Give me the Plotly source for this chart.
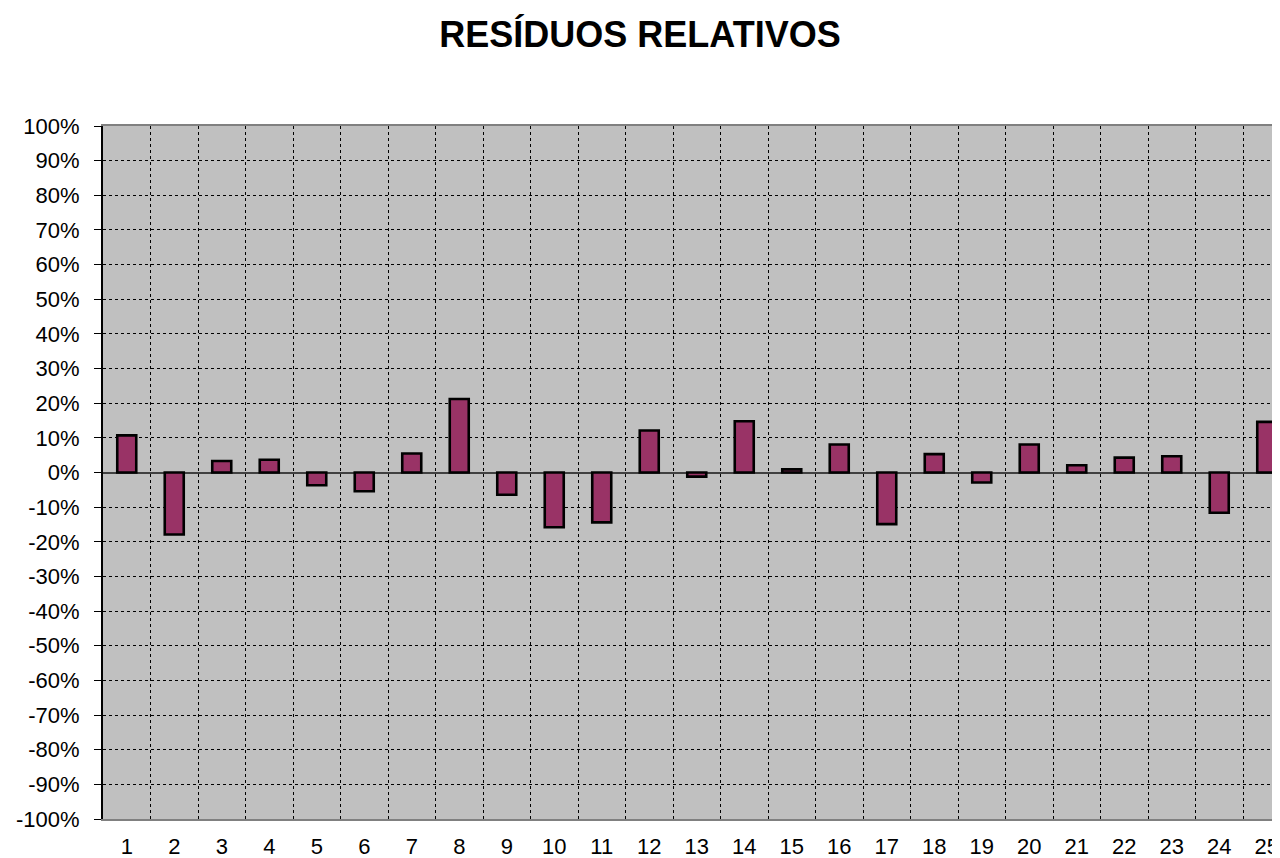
import plotly.graph_objects as go

categories = list(range(1, 26))
residuos = [0.107, -0.179, 0.033, 0.037, -0.037, -0.054, 0.055, 0.212,
            -0.064, -0.158, -0.144, 0.121, -0.012, 0.148, 0.009, 0.081,
            -0.149, 0.053, -0.029, 0.081, 0.021, 0.043, 0.047, -0.116, 0.146]
y_tick_vals = [i / 10 for i in range(-10, 11)]
y_tick_text = [f"{i * 10}%" for i in range(-10, 11)]
x_tick_text = [str(c) for c in categories]

FONT = "Arial, 'Liberation Sans', sans-serif"

# The page body has an 8px default margin, so the figure is sized to fit
# the 1280x858 window once that offset is included.
W, H = 1272, 850

fig = go.Figure()
fig.add_trace(go.Bar(
    x=categories, y=residuos, width=0.4,
    marker=dict(color="#993366", line=dict(color="black", width=2.6)),
))

fig.update_layout(
    width=W, height=H,
    margin=dict(l=95, r=0, t=118, b=39, autoexpand=False),
    paper_bgcolor="white", plot_bgcolor="#C0C0C0",
    showlegend=False,
    font=dict(family=FONT, size=22, color="black"),
    title=dict(text="<b>RESÍDUOS RELATIVOS</b>", x=632 / W, xanchor="center",
               xref="container",
               y=1 - 26 / H, yanchor="middle", yref="container",
               font=dict(family=FONT, size=36, color="black")),
)

fig.update_xaxes(
    range=[0.5, 0.5 + (W - 95) / 47.5],
    automargin=False,
    tickmode="array", tickvals=categories, ticktext=x_tick_text,
    showgrid=False, ticks="", ticklabelstandoff=7,
    showline=True, linecolor="#808080", linewidth=2, mirror=True,
    zeroline=False,
    minor=dict(tickmode="array", tickvals=[c + 0.5 for c in categories],
               showgrid=True, gridcolor="black", griddash="dot", gridwidth=1,
               ticks=""),
)

fig.update_yaxes(
    range=[-1, 1],
    automargin=False,
    tickmode="array", tickvals=y_tick_vals, ticktext=y_tick_text,
    showgrid=True, gridcolor="black", griddash="dot", gridwidth=1,
    ticks="outside", ticklen=7, tickcolor="black", tickwidth=1,
    ticklabelstandoff=10,
    showline=True, linecolor="black", linewidth=2,
    zeroline=True, zerolinecolor="#404040", zerolinewidth=1.5,
)

fig.write_html("out.html")
